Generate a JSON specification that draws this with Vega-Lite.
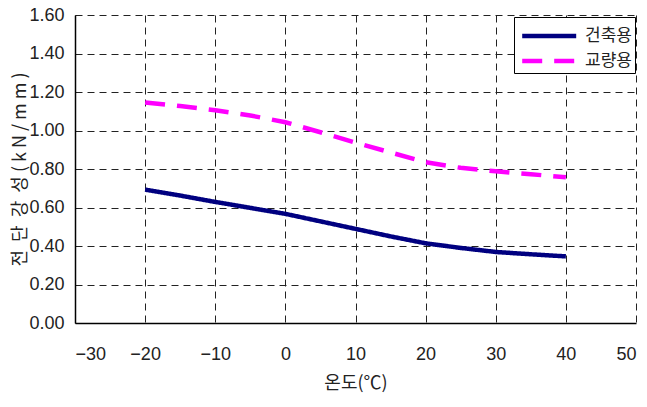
{
  "$schema": "https://vega.github.io/schema/vega-lite/v6.json",
  "autosize": "none",
  "width": 561,
  "height": 308,
  "padding": {"left": 75, "top": 15, "right": 11, "bottom": 84},
  "background": "white",
  "config": {
    "view": {"stroke": null},
    "font": "Noto Sans CJK KR"
  },
  "data": {
    "values": [
      {"temp": -20, "stiffness": 0.693, "use": "건축용"},
      {"temp": -15, "stiffness": 0.662, "use": "건축용"},
      {"temp": -10, "stiffness": 0.629, "use": "건축용"},
      {"temp": -5, "stiffness": 0.598, "use": "건축용"},
      {"temp": 0, "stiffness": 0.567, "use": "건축용"},
      {"temp": 5, "stiffness": 0.528, "use": "건축용"},
      {"temp": 10, "stiffness": 0.489, "use": "건축용"},
      {"temp": 15, "stiffness": 0.450, "use": "건축용"},
      {"temp": 20, "stiffness": 0.414, "use": "건축용"},
      {"temp": 25, "stiffness": 0.390, "use": "건축용"},
      {"temp": 30, "stiffness": 0.369, "use": "건축용"},
      {"temp": 35, "stiffness": 0.357, "use": "건축용"},
      {"temp": 40, "stiffness": 0.346, "use": "건축용"},
      {"temp": -20, "stiffness": 1.146, "use": "교량용"},
      {"temp": -15, "stiffness": 1.127, "use": "교량용"},
      {"temp": -10, "stiffness": 1.105, "use": "교량용"},
      {"temp": -5, "stiffness": 1.078, "use": "교량용"},
      {"temp": 0, "stiffness": 1.043, "use": "교량용"},
      {"temp": 5, "stiffness": 0.991, "use": "교량용"},
      {"temp": 10, "stiffness": 0.937, "use": "교량용"},
      {"temp": 15, "stiffness": 0.886, "use": "교량용"},
      {"temp": 20, "stiffness": 0.835, "use": "교량용"},
      {"temp": 25, "stiffness": 0.806, "use": "교량용"},
      {"temp": 30, "stiffness": 0.788, "use": "교량용"},
      {"temp": 35, "stiffness": 0.773, "use": "교량용"},
      {"temp": 40, "stiffness": 0.757, "use": "교량용"}
    ]
  },
  "mark": {"type": "line", "strokeWidth": 4.5, "strokeCap": "butt"},
  "encoding": {
    "x": {
      "field": "temp",
      "type": "quantitative",
      "scale": {"domain": [-30, 50], "nice": false},
      "axis": {
        "values": [-30, -20, -10, 0, 10, 20, 30, 40, 50],
        "format": "d",
        "title": "온도(℃)",
        "titleFont": "Noto Sans CJK KR",
        "titleFontSize": 18,
        "titleFontWeight": "normal",
        "titleColor": "#222",
        "titleY": 60,
        "titleBaseline": "middle",
        "labelFont": "Liberation Sans",
        "labelFontSize": 18,
        "labelColor": "#222",
        "labelPadding": 22,
        "ticks": false,
        "domainColor": "#000",
        "domainWidth": 1.5,
        "grid": true,
        "gridColor": "#222",
        "gridDash": [7, 5],
        "gridWidth": 1
      }
    },
    "y": {
      "field": "stiffness",
      "type": "quantitative",
      "scale": {"domain": [0, 1.6], "nice": false},
      "axis": {
        "values": [0, 0.2, 0.4, 0.6, 0.8, 1.0, 1.2, 1.4, 1.6],
        "format": ".2f",
        "title": "전\u00a0\u00a0단\u00a0\u00a0강\u00a0\u00a0성\u00a0(\u00a0k\u00a0N\u00a0/\u00a0m\u00a0m\u00a0)",
        "titleFont": "Noto Sans CJK KR",
        "titleFontSize": 18,
        "titleFontWeight": "normal",
        "titleColor": "#222",
        "titleX": -55,
        "titleY": 154,
        "titleAngle": 270,
        "titleAlign": "center",
        "titleBaseline": "middle",
        "labelFont": "Liberation Sans",
        "labelFontSize": 18,
        "labelColor": "#222",
        "labelPadding": 11,
        "ticks": false,
        "domainColor": "#000",
        "domainWidth": 1.5,
        "grid": true,
        "gridColor": "#222",
        "gridDash": [7, 5],
        "gridWidth": 1
      }
    },
    "color": {
      "field": "use",
      "type": "nominal",
      "scale": {"domain": ["건축용", "교량용"], "range": ["#000080", "#FF00FF"]},
      "legend": {
        "title": null,
        "orient": "none",
        "legendX": 439,
        "legendY": 2,
        "fillColor": "white",
        "strokeColor": "#000",
        "padding": 3,
        "symbolType": "M-0.8,0L3.2,0",
        "symbolSize": 729,
        "symbolStrokeWidth": 4.5,
        "labelFont": "Noto Sans CJK KR",
        "labelFontSize": 17,
        "labelColor": "#222",
        "labelOffset": 36,
        "rowPadding": 0
      }
    },
    "strokeDash": {
      "field": "use",
      "type": "nominal",
      "scale": {"domain": ["건축용", "교량용"], "range": [[1, 0], [20, 12]]},
      "legend": {
        "title": null,
        "orient": "none",
        "legendX": 439,
        "legendY": 2,
        "fillColor": "white",
        "strokeColor": "#000",
        "padding": 3,
        "symbolType": "M-0.8,0L3.2,0",
        "symbolSize": 729,
        "symbolStrokeWidth": 4.5,
        "labelFont": "Noto Sans CJK KR",
        "labelFontSize": 17,
        "labelColor": "#222",
        "labelOffset": 36,
        "rowPadding": 0
      }
    }
  }
}
